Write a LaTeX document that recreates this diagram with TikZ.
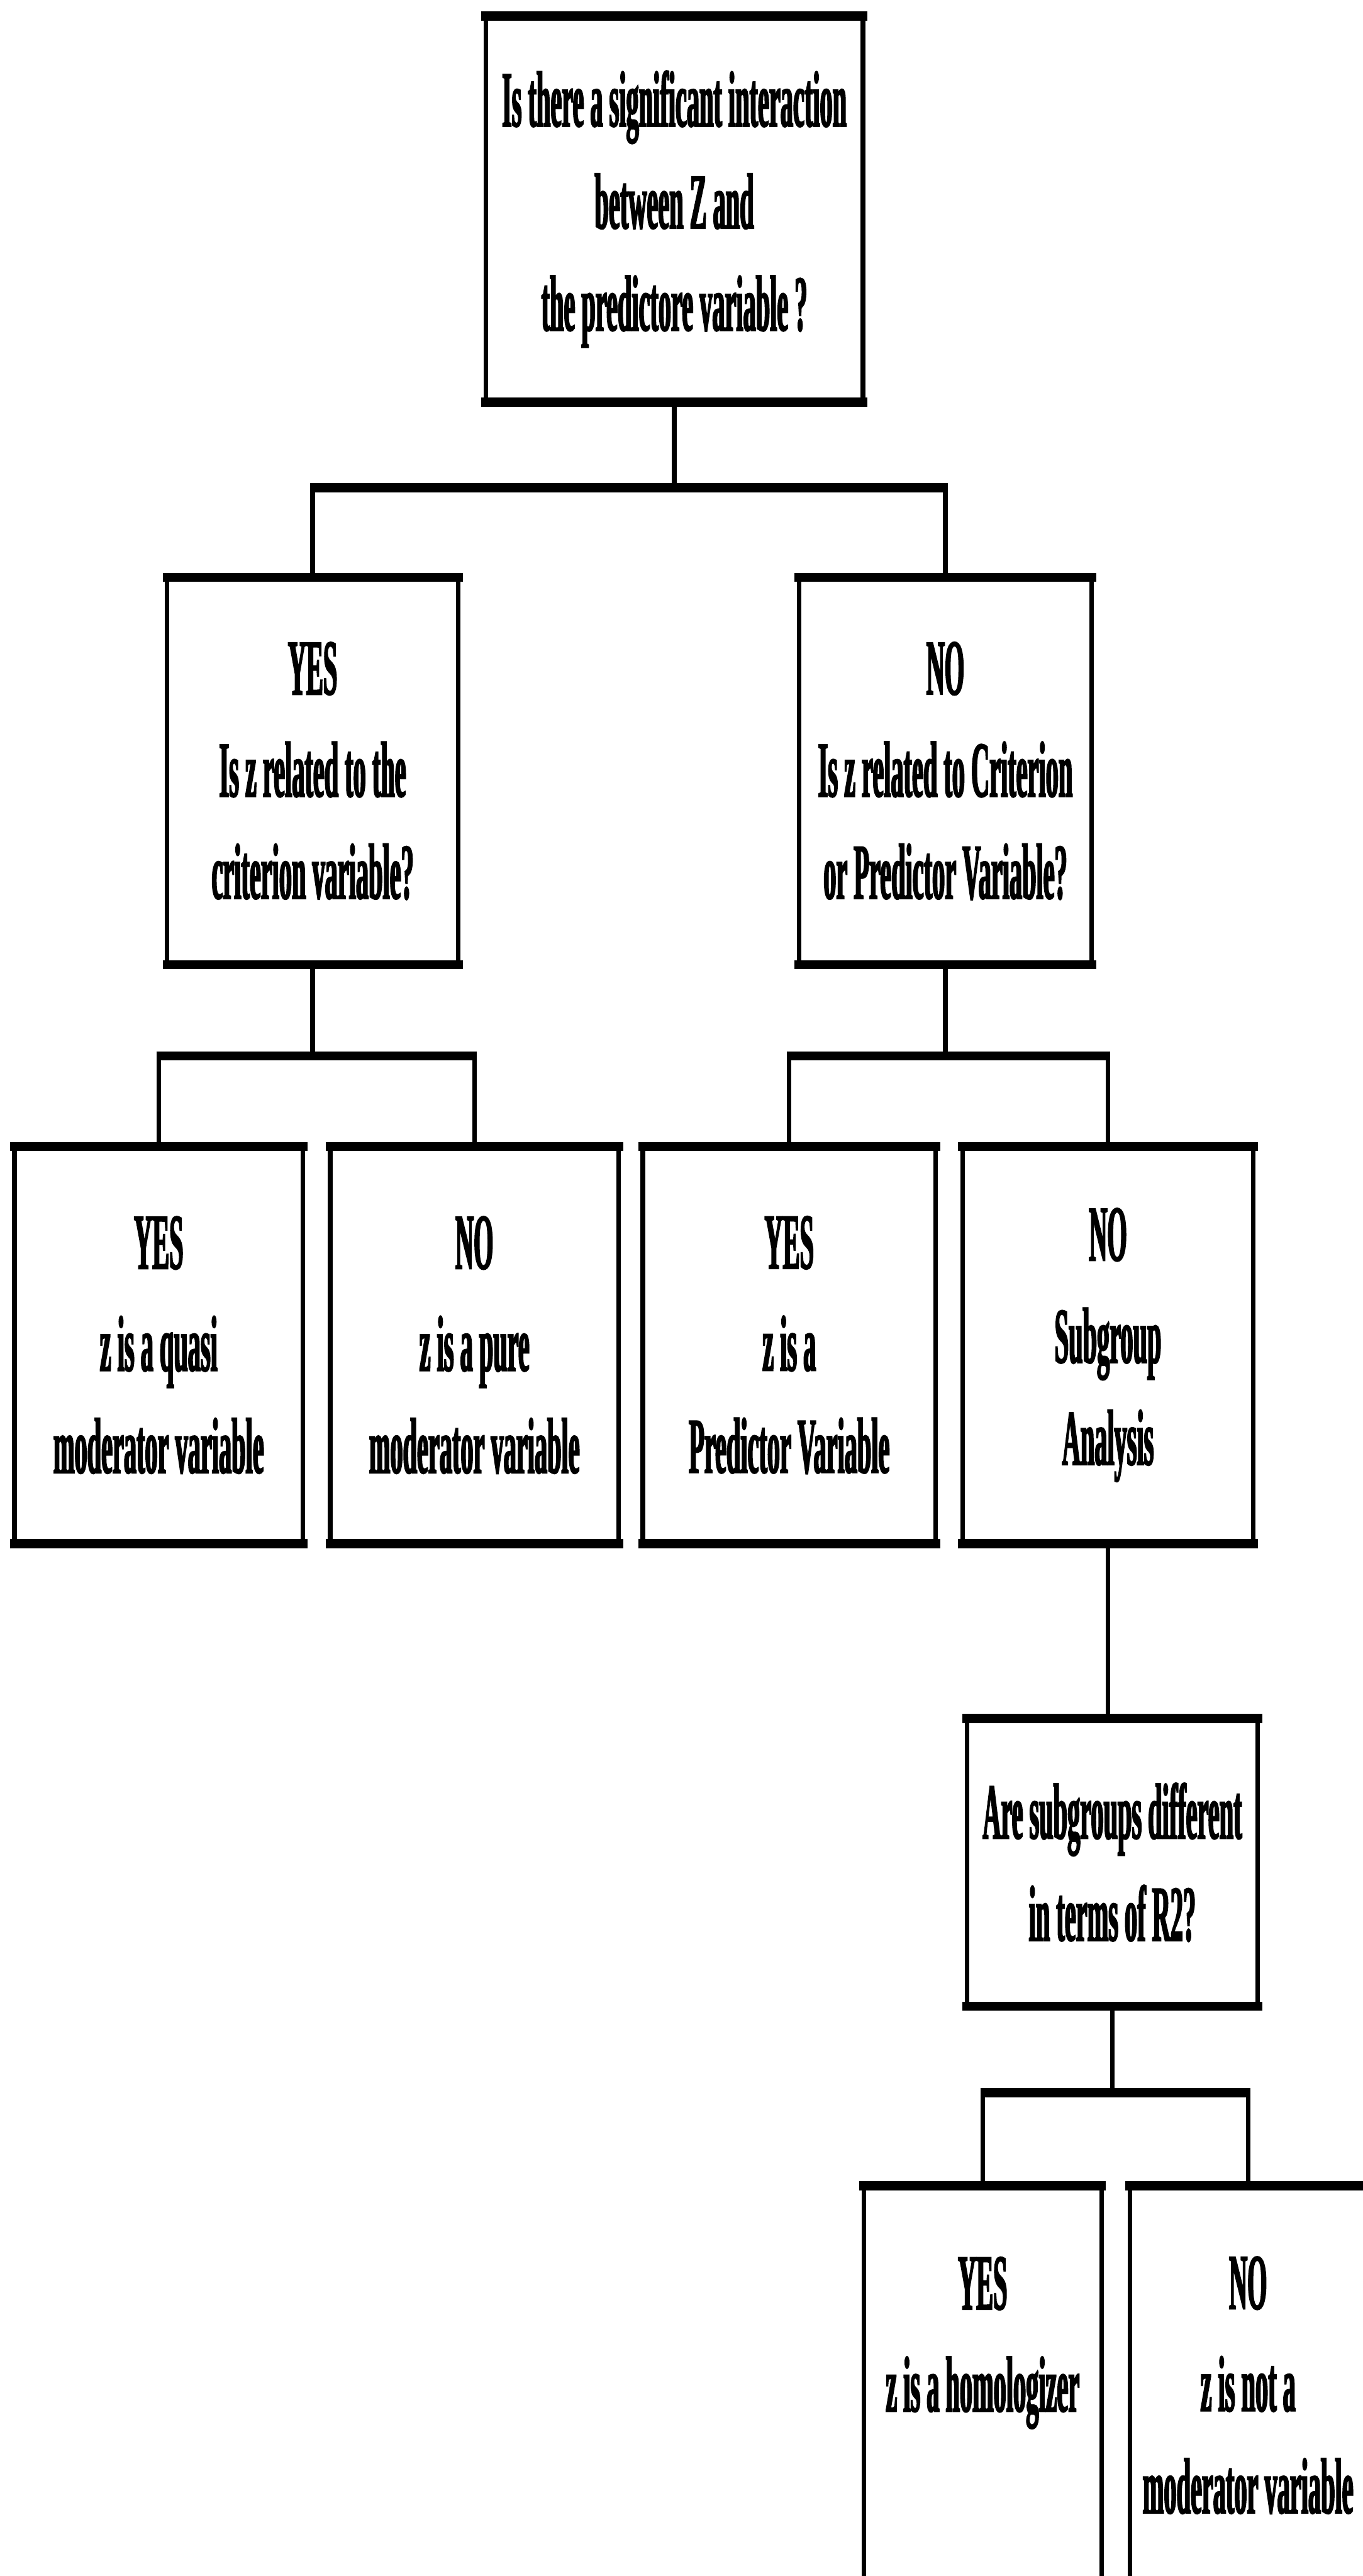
\documentclass[tikz,border=0pt]{standalone}
\usepackage{fontspec}
\newfontfamily\flowfont{Liberation Serif}[FakeStretch=0.32, FakeBold=1.5]
\usetikzlibrary{positioning}

\tikzset{
  qbox/.style={draw, line width=3pt, align=center, inner sep=0pt,
    font=\flowfont\bfseries\fontsize{52}{67}\selectfont},
  stem/.style={line width=3pt},
  bar/.style={line width=6pt, shorten <=-1.5pt, shorten >=-1.5pt},
}

\begin{document}
\begin{tikzpicture}
    \useasboundingbox (0,0) rectangle (31.43,-59.41);

    % Questions
    \node[qbox, minimum width=8.70cm, minimum height=8.80cm] (q1) at (15.55,-4.82)
        {Is there a significant interaction\\between Z and\\the predictore variable ?};
    \node[qbox, minimum width=6.71cm, minimum height=8.83cm] (q2) at (7.21,-17.78)
        {YES\\Is z related to the\\criterion variable?};
    \node[qbox, minimum width=6.75cm, minimum height=8.83cm] (q3) at (21.80,-17.78)
        {NO\\Is z related to Criterion\\or Predictor Variable?};

    % Answers, third row
    \node[qbox, minimum width=6.65cm, minimum height=9.05cm] (r1) at (3.66,-31.02)
        {YES\\z is a quasi\\moderator variable};
    \node[qbox, minimum width=6.65cm, minimum height=9.05cm] (r2) at (10.94,-31.02)
        {NO\\z is a pure\\moderator variable};
    \node[qbox, minimum width=6.75cm, minimum height=9.05cm] (r3) at (18.20,-31.02)
        {YES\\z is a\\Predictor Variable};
    \node[qbox, minimum width=6.70cm, minimum height=9.05cm] (r4) at (25.55,-31.02)
        {NO\\Subgroup\\Analysis};

    % Subgroup question
    \node[qbox, minimum width=6.71cm, minimum height=6.53cm] (q4) at (25.65,-42.95)
        {Are subgroups different\\in terms of R2?};

    % Last row (runs off the page)
    \node[qbox, minimum width=5.48cm, minimum height=9.10cm] (r5) at (22.66,-55.01)
        {YES\\z is a homologizer\\~};
    \node[qbox, minimum width=5.44cm, minimum height=9.10cm] (r6) at (28.78,-55.01)
        {NO\\z is not a\\moderator variable};

    % Heavier top and bottom edges
    \foreach \n in {q1,q2,q3,q4,r1,r2,r3,r4,r5,r6} {
        \draw[bar] (\n.north west) -- (\n.north east);
        \draw[bar] (\n.south west) -- (\n.south east);
    }

    % Splits
    \coordinate (j1) at (15.55,-11.25);
    \coordinate (j2) at (7.21,-24.35);
    \coordinate (j3) at (21.80,-24.35);
    \coordinate (j4) at (25.65,-48.26);

    \draw[stem] (q1) -- (j1);
    \draw[bar] (q2 |- j1) -- (q3 |- j1);
    \draw[stem] (q2 |- j1) -- (q2);
    \draw[stem] (q3 |- j1) -- (q3);

    \draw[stem] (q2) -- (j2);
    \draw[bar] (r1 |- j2) -- (r2 |- j2);
    \draw[stem] (r1 |- j2) -- (r1);
    \draw[stem] (r2 |- j2) -- (r2);

    \draw[stem] (q3) -- (j3);
    \draw[bar] (r3 |- j3) -- (r4 |- j3);
    \draw[stem] (r3 |- j3) -- (r3);
    \draw[stem] (r4 |- j3) -- (r4);

    \draw[stem] (r4.south) -- (r4.south |- q4.north);

    \draw[stem] (q4) -- (j4);
    \draw[bar] (r5 |- j4) -- (r6 |- j4);
    \draw[stem] (r5 |- j4) -- (r5);
    \draw[stem] (r6 |- j4) -- (r6);
\end{tikzpicture}
\end{document}
